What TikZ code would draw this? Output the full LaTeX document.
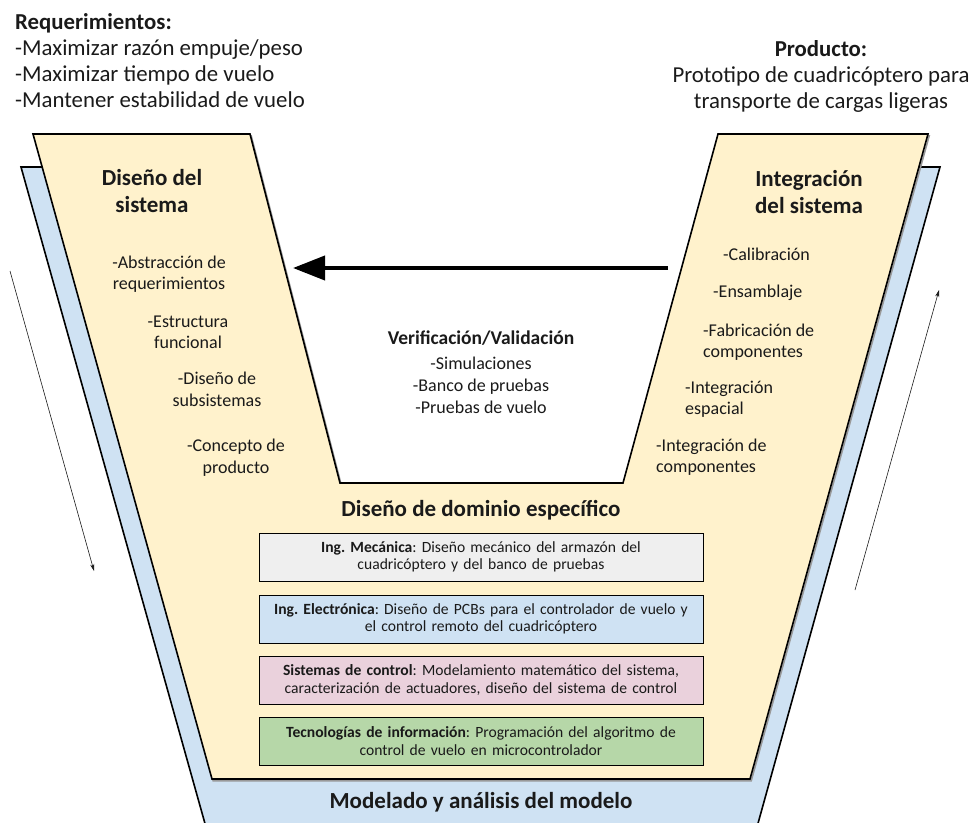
\documentclass[tikz,border=0pt]{standalone}
\usepackage{fontspec}
\setmainfont{Carlito}
\frenchspacing
\usetikzlibrary{arrows.meta}
\definecolor{vyellow}{HTML}{FFF2CC}
\definecolor{vblue}{HTML}{CFE2F3}
\definecolor{boxgrey}{HTML}{EFEFEF}
\definecolor{boxpink}{HTML}{EAD1DC}
\definecolor{boxgreen}{HTML}{B6D7A8}
\definecolor{ink}{HTML}{1A1A1A}
\tikzset{
  frame/.style={draw=black, line width=1.6pt, line join=miter},
  toptext/.style={font=\fontsize{22.8}{26}\selectfont, text=ink, inner sep=0pt},
  head/.style={font=\fontsize{23}{27}\selectfont\bfseries, text=ink, align=center, inner sep=0pt},
  item/.style={font=\fontsize{18}{21.5}\selectfont, text=ink, inner sep=0pt},
  domainbox/.style={draw=black, line width=0.8pt, minimum width=444pt, minimum height=48pt,
    text width=436pt, align=center, inner sep=0pt, text=ink,
    font=\fontsize{15.6}{17.5}\selectfont},
  flow/.style={-{Stealth[length=7pt,width=4pt]}, line width=0.6pt, draw=ink},
}
\begin{document}
\begin{tikzpicture}[x=1pt,y=-1pt]
\useasboundingbox (0,0) rectangle (974,822);

% back layer: modelling and analysis
\begin{scope}
  \clip (0,0) rectangle (974,822);
  \path[frame, fill=vblue] (21,167) -- (940,167) -- (752,845) -- (211,845) -- cycle;
\end{scope}
% the gap between the arms stays open
\fill[white] (250,130) -- (340,483) -- (623,483) -- (718,130) -- cycle;

% front layer: the V, with a soft drop shadow below it
\path[draw=black!40, line width=1.6pt, line join=miter, shift={(1.2,1.8)}]
  (33,134) -- (250,134) -- (340,483) -- (623,483) -- (718,134)
  -- (928,134) -- (750,779) -- (212,779) -- cycle;
\path[frame, fill=vyellow] (33,134) -- (250,134) -- (340,483) -- (623,483) -- (718,134)
  -- (928,134) -- (750,779) -- (212,779) -- cycle;

% requirements and product
\node[toptext, anchor=west, align=left] (req) at (15,61)
  {\textbf{Requerimientos:}\\-Maximizar razón empuje/peso\\-Maximizar tiempo de vuelo\\-Mantener estabilidad de vuelo};
\node[toptext, align=center] (prod) at (821,76)
  {\textbf{Producto:}\\Prototipo de cuadricóptero para\\transporte de cargas ligeras};

% left arm: system design
\node[head] (dsis) at (152,191.5) {Diseño del\\sistema};
\node[item, align=center] (l1) at (169,274) {-Abstracción de\\requerimientos};
\node[item, align=center] (l2) at (188,332.5) {-Estructura\\funcional};
\node[item, align=center] (l3) at (217,389.5) {-Diseño de\\subsistemas};
\node[item, align=center] (l4) at (236,457.5) {-Concepto de\\producto};

% right arm: system integration
\node[head] (isis) at (809,192) {Integración\\del sistema};
\node[item, anchor=west] (r1) at (723,254) {-Calibración};
\node[item, anchor=west] (r2) at (713,293) {-Ensamblaje};
\node[item, anchor=west, align=left] (r3) at (703,342) {-Fabricación de\\componentes};
\node[item, anchor=west, align=left] (r4) at (685,399.5) {-Integración\\espacial};
\node[item, anchor=west, align=left] (r5) at (656,457) {-Integración de\\componentes};

% verification / validation
\coordinate (vstart) at (668,268);
\coordinate (vend) at (293,268);
\draw[line width=4pt, -{Triangle[length=32pt,width=24pt]}] (vstart) -- (vend);
\node[head, font=\fontsize{19.5}{22}\selectfont\bfseries] (vv) at (481,338) {Verificación/Validación};
\node[item, align=center, font=\fontsize{18}{22}\selectfont] (vlist) at (481,385)
  {-Simulaciones\\-Banco de pruebas\\-Pruebas de vuelo};

% domain-specific design
\node[head] (dom) at (481,510) {Diseño de dominio específico};
\node[domainbox, fill=boxgrey] (mec) at (481,557)
  {\textbf{Ing. Mecánica}: Diseño mecánico del armazón del\\cuadricóptero y del banco de pruebas};
\node[domainbox, fill=vblue] (ele) at (481,619)
  {\textbf{Ing. Electrónica}: Diseño de PCBs para el controlador de vuelo y\\el control remoto del cuadricóptero};
\node[domainbox, fill=boxpink] (ctl) at (481,680)
  {\textbf{Sistemas de control}: Modelamiento matemático del sistema,\\caracterización de actuadores, diseño del sistema de control};
\node[domainbox, fill=boxgreen] (tic) at (481,741)
  {\textbf{Tecnologías de información}: Programación del algoritmo de\\control de vuelo en microcontrolador};

% modelling
\node[head] (mod) at (481,802) {Modelado y análisis del modelo};

% side flow arrows
\coordinate (dtop) at (10,271);
\coordinate (dbot) at (94,571);
\coordinate (ubot) at (855,590);
\coordinate (utop) at (939,290);
\draw[flow] (dtop) -- (dbot);
\draw[flow] (ubot) -- (utop);
\end{tikzpicture}
\end{document}
